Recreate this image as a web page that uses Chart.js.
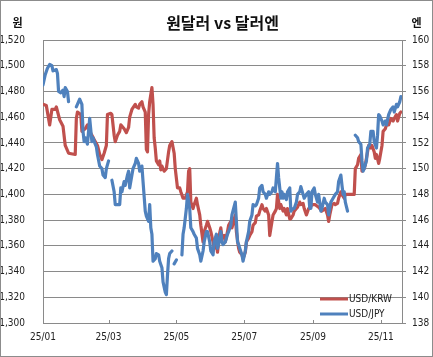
<!DOCTYPE html>
<html><head><meta charset="utf-8">
<script src="https://cdn.jsdelivr.net/npm/chart.js@4.4.1/dist/chart.umd.min.js"></script>
<style>html,body{margin:0;padding:0;background:#fff;}canvas{display:block;}</style>
</head><body>
<canvas id="c" width="433" height="357"></canvas>
<script>
// ---- text ----
const chartTitle = '원달러 vs 달러엔';
const leftUnit = '원';
const rightUnit = '엔';
const seriesNames = ['USD/KRW', 'USD/JPY'];

// ---- x axis: days since 2025-01-01, labelled every two months ----
const monthTickDays = [0, 59, 120, 181, 243, 304];
const monthTickLabels = ['25/01', '25/03', '25/05', '25/07', '25/09', '25/11'];

// ---- USD/KRW (left axis) ----
const krwDays = [0,3,6,8,11,12,15,18,20,23,29,30,31,34,35,38,40,42,44,47,49,51,53,55,57,58,61,62,64,65,67,69,70,73,75,77,78,80,83,84,86,87,89,90,92,93,94,95,96,98,99,100,101,102,104,105,106,107,109,111,113,114,116,118,119,121,123,124,126,128,130,131,132,133,135,136,138,139,141,142,144,145,147,148,150,151,153,154,156,157,159,160,161,163,164,166,167,169,170,173,174,176,177,179,180,182,183,185,186,188,189,191,192,194,195,197,198,200,201,203,204,206,207,209,210,211,213,214,216,217,219,220,222,223,225,226,228,229,231,232,234,235,237,239,240,242,245,248,251,254,256,257,258,260,262,263,265,266,268,269,271,272,280,281,283,284,286,287,289,290,292,293,295,296,298,299,300,302,303,305,306,308,309,311,313,315,316,318,319,321,322];
const krwRates = [1470,1469,1454,1466,1466,1468,1458,1453,1438,1432,1431,1459,1464,1462,1449,1451,1454,1449,1446,1441,1438,1431,1427,1432,1438,1462,1463,1462,1446,1441,1446,1449,1454,1451,1448,1452,1460,1466,1470,1468,1467,1470,1472,1468,1464,1435,1433,1462,1472,1483,1470,1444,1436,1426,1423,1426,1419,1422,1418,1420,1433,1438,1441,1432,1420,1405,1405,1402,1397,1397,1402,1418,1420,1394,1389,1392,1397,1392,1384,1376,1363,1371,1376,1379,1374,1371,1363,1358,1361,1355,1370,1374,1366,1368,1363,1371,1376,1379,1374,1384,1371,1358,1355,1353,1350,1355,1363,1366,1368,1371,1376,1378,1383,1384,1387,1392,1389,1387,1389,1384,1368,1379,1384,1387,1389,1400,1389,1392,1387,1389,1384,1389,1381,1381,1384,1387,1389,1390,1394,1392,1393,1389,1384,1389,1389,1392,1392,1390,1387,1389,1384,1379,1384,1392,1393,1392,1393,1397,1402,1400,1397,1400,1400,1420,1423,1428,1431,1418,1420,1423,1433,1438,1436,1438,1433,1428,1431,1424,1428,1438,1449,1451,1454,1454,1459,1457,1459,1462,1457,1463,1464];

// ---- USD/JPY (right axis); null = no quote that day ----
const jpyDays = [0,2,4,6,8,9,12,13,14,16,18,19,20,22,23,26,30,33,35,36,37,38,40,42,44,45,47,48,49,51,53,54,56,57,59,60,62,64,65,67,69,70,71,73,74,76,77,78,80,81,83,84,86,87,89,90,92,93,95,96,97,98,99,101,102,104,105,107,108,110,111,112,113,114,116,117,118,120,122,125,126,127,129,130,132,133,135,136,138,139,141,142,144,145,147,148,150,151,153,154,156,157,158,160,161,162,164,166,167,169,170,173,174,175,176,177,179,180,182,183,185,186,188,189,191,192,194,195,197,198,200,201,203,204,206,207,209,210,211,212,214,215,216,217,219,220,222,223,225,226,228,229,231,232,234,235,237,239,240,241,242,244,245,247,248,250,251,253,254,256,257,258,259,261,263,265,266,268,269,270,271,272,274,276,281,283,284,286,287,288,289,291,292,294,295,297,298,300,301,302,303,305,306,308,309,311,313,315,316,318,319,321,322];
const jpyRates = [156.5,157.3,157.8,158.1,158.0,157.6,157.7,157.4,156.0,155.9,156.1,155.6,156.3,156.0,155.2,null,154.8,155.4,155.0,152.9,152.1,152.4,151.9,153.9,152.1,152.4,151.9,151.7,151.1,150.2,150.0,149.5,149.3,150.0,150.6,null,149.1,148.2,147.2,147.2,147.2,148.5,148.2,149.0,148.7,149.5,149.8,148.5,149.5,150.0,150.4,150.8,150.4,149.8,150.2,149.0,146.7,146.3,145.9,147.2,145.4,144.9,142.8,143.0,143.4,143.3,142.8,142.3,141.2,140.4,140.2,141.7,143.0,143.4,143.6,null,142.6,142.9,null,143.3,144.9,145.4,146.9,148.0,146.9,145.4,145.1,144.9,144.6,143.8,143.3,142.8,143.6,144.3,145.1,145.1,144.3,143.6,143.3,144.3,144.9,143.8,144.1,145.1,144.3,144.1,144.3,144.9,145.1,145.6,146.4,147.4,145.9,144.3,144.1,143.8,143.3,142.8,143.6,144.3,145.1,145.9,146.4,147.2,147.1,147.2,147.7,148.5,148.7,148.2,148.0,147.7,148.2,148.0,148.2,148.5,148.2,149.3,150.4,149.3,147.7,148.2,147.7,148.0,147.6,148.2,148.5,146.7,146.9,146.9,147.4,148.0,148.2,148.6,148.0,147.7,148.0,148.2,146.9,146.9,148.2,148.5,148.0,147.4,148.0,146.7,146.9,147.7,147.4,147.2,146.4,146.9,147.4,147.7,148.0,148.2,149.0,149.5,148.7,148.0,148.2,147.4,146.7,null,152.6,152.4,152.1,151.9,150.6,149.8,150.0,150.6,151.6,151.9,152.9,152.9,152.1,151.6,152.6,154.2,154.1,153.7,153.4,153.7,153.4,154.2,154.6,154.8,154.4,155.0,154.8,155.2,155.6];

// ---- left / right axis ranges ----
const krwAxis = { min: 1300, max: 1520, step: 20 };
const jpyAxis = { min: 138, max: 160, step: 2 };

const RED = '#C0504D', BLUE = '#4F81BD';
const GRID = '#8a8a8a', TEXT = '#222222';
const NARROW = "'Liberation Sans Narrow','Arial Narrow','DejaVu Sans Condensed','Liberation Sans',sans-serif";
const CJK = "'Noto Sans CJK KR','Noto Sans',sans-serif";

const toPoints = (xs, ys) => xs.map((x, i) => ({ x: x, y: ys[i] }));

const decor = {
  id: 'decor',
  afterDraw(chart) {
    const { ctx, chartArea: a } = chart;
    ctx.save();
    // title and unit labels
    ctx.fillStyle = '#111';
    ctx.textAlign = 'center';
    ctx.textBaseline = 'middle';
    ctx.font = 'bold 16px ' + CJK;
    ctx.fillText(chartTitle, (a.left + a.right) / 2, 23);
    ctx.font = 'bold 11px ' + CJK;
    ctx.fillText(leftUnit, 17.5, 23);
    ctx.fillText(rightUnit, 416.5, 23);
    // small inward tick marks on x axis
    const xs = chart.scales.x;
    ctx.strokeStyle = GRID; ctx.lineWidth = 1;
    xs.ticks.forEach((t, i) => {
      if (i === 0) return;
      const px = Math.round(xs.getPixelForValue(t.value)) + 0.5;
      ctx.beginPath(); ctx.moveTo(px, a.bottom - 3); ctx.lineTo(px, a.bottom); ctx.stroke();
    });
    // legend inside plot, bottom right
    ctx.textAlign = 'left';
    ctx.font = '10px ' + NARROW;
    chart.data.datasets.forEach((ds, i) => {
      const y = a.bottom - 24 + i * 15;
      const x0 = a.right - 82;
      ctx.strokeStyle = ds.borderColor; ctx.lineWidth = 3;
      ctx.beginPath(); ctx.moveTo(x0, y); ctx.lineTo(x0 + 28, y); ctx.stroke();
      ctx.fillStyle = TEXT;
      ctx.fillText(ds.label, x0 + 29, y);
    });
    // outer frame
    ctx.strokeStyle = '#8c8c8c'; ctx.lineWidth = 1;
    ctx.strokeRect(0.5, 0.5, chart.width - 1, chart.height - 1);
    ctx.restore();
  }
};

new Chart(document.getElementById('c'), {
  type: 'line',
  data: {
    datasets: [
      { label: seriesNames[0], data: toPoints(krwDays, krwRates), yAxisID: 'yL',
        borderColor: RED, backgroundColor: RED, borderWidth: 3.2, pointRadius: 0, tension: 0, order: 1,
        borderJoinStyle: 'round', borderCapStyle: 'round', spanGaps: false },
      { label: seriesNames[1], data: toPoints(jpyDays, jpyRates), yAxisID: 'yR',
        borderColor: BLUE, backgroundColor: BLUE, borderWidth: 3.2, pointRadius: 0, tension: 0, order: 0,
        borderJoinStyle: 'round', borderCapStyle: 'round', spanGaps: false }
    ]
  },
  options: {
    responsive: false, animation: false, parsing: true,
    layout: { padding: { top: 40, left: 0, right: 0, bottom: 0 } },
    plugins: { legend: { display: false }, tooltip: { enabled: false }, title: { display: false } },
    scales: {
      x: {
        type: 'linear', min: 0, max: 323,
        afterBuildTicks: s => { s.ticks = monthTickDays.map(v => ({ value: v })); },
        afterFit: s => { s.height = 34; },
        ticks: { autoSkip: false, maxRotation: 0, padding: 8, color: TEXT,
          font: { family: NARROW, size: 10 },
          callback: (v, i) => monthTickLabels[i] },
        grid: { display: false, drawTicks: false },
        border: { display: true, color: GRID, width: 1 }
      },
      yL: {
        position: 'left', min: krwAxis.min, max: krwAxis.max,
        afterFit: s => { s.width = 43; },
        ticks: { stepSize: krwAxis.step, padding: 18, color: TEXT, font: { family: NARROW, size: 10 },
          callback: v => Number(v).toLocaleString('en-US') },
        grid: { color: GRID, drawTicks: false, lineWidth: 1 },
        border: { display: true, color: GRID, width: 1 }
      },
      yR: {
        position: 'right', min: jpyAxis.min, max: jpyAxis.max,
        afterFit: s => { s.width = 31; },
        ticks: { stepSize: jpyAxis.step, padding: 6, color: TEXT, font: { family: NARROW, size: 10 } },
        grid: { drawOnChartArea: false, drawTicks: true, tickLength: 4, color: GRID },
        border: { display: true, color: GRID, width: 1 }
      }
    }
  },
  plugins: [decor]
});
</script>
</body></html>
